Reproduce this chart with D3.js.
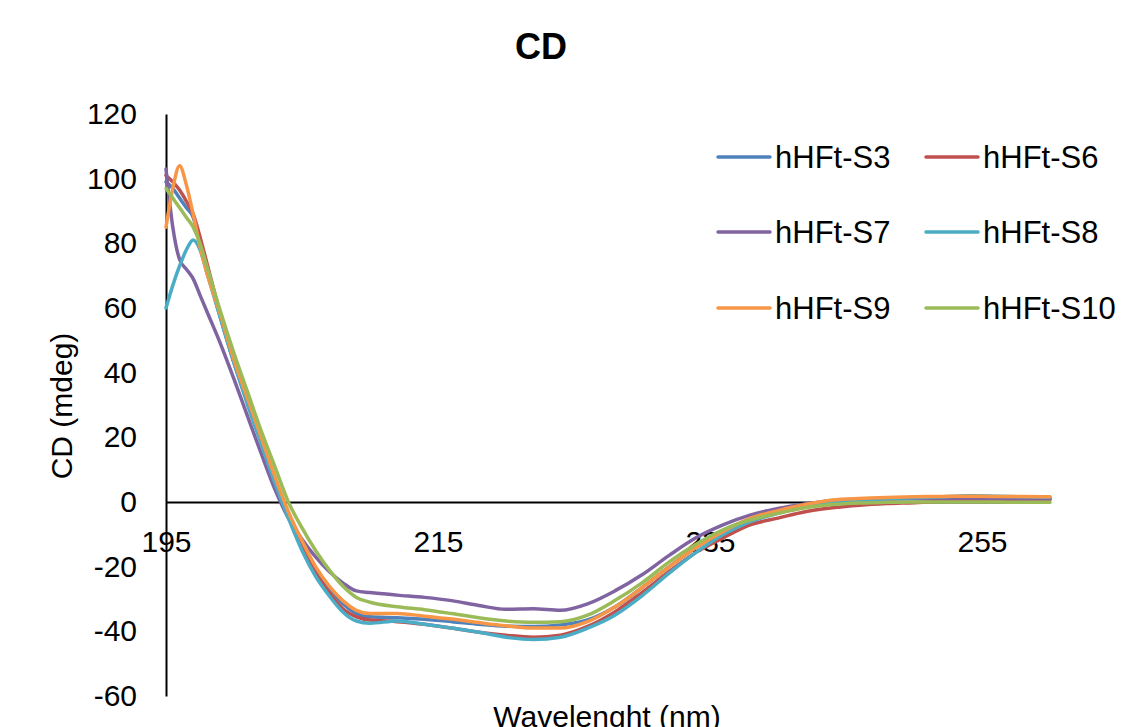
<!DOCTYPE html>
<html>
<head>
<meta charset="utf-8">
<script src="https://cdn.jsdelivr.net/npm/d3@7"></script>
<style>
  body { margin: 0; background: #fff; }
  svg { display: block; font-family: "Liberation Sans", Arial, sans-serif; }
</style>
</head>
<body>
<svg id="chart"></svg>
<script>
// wavelength grid (nm)
const wavelengths = [195, 195.5, 196, 196.5, 197, 197.5, 198, 199, 200, 201, 202, 203, 204, 205, 206, 207, 208, 209, 210,
  212, 214, 216, 218, 220, 222, 224, 226, 228, 230, 232, 234, 236, 238, 240, 242, 244, 246, 248, 250, 252, 254, 256, 258, 260];

const seriesNames = ['hHFt-S3', 'hHFt-S6', 'hHFt-S7', 'hHFt-S8', 'hHFt-S9', 'hHFt-S10'];
const seriesColors = ['#4F81BD', '#C0504D', '#8064A2', '#4BACC6', '#F79646', '#9BBB59'];

const s3 = [99, 97, 94, 91, 88, 80, 72, 57, 43, 31, 19, 7, -4, -13, -21, -26.5, -31.5, -34.5, -35.5,
  -35.8, -36.3, -37, -37.8, -38.4, -38.5, -38, -36.5, -32.5, -26.5, -20, -14, -9, -5.5, -3, -1.2, 0, 0.6, 0.9, 1, 1.1, 1.2, 1.2, 1.1, 1];
const s6 = [101, 99, 96.5, 93, 89, 82, 74, 58, 44, 31, 19, 7, -4, -14, -22, -28, -33, -35.5, -36.5,
  -37, -37.8, -39, -40.3, -41.2, -41.8, -41.2, -38.5, -34, -28, -21.5, -15.5, -11, -7, -5, -3, -1.8, -1, -0.5, -0.2, 0.2, 0.5, 0.7, 0.8, 0.8];
const s7 = [103, 85, 75, 72, 69, 64, 59, 49, 38, 26.5, 15, 4, -5, -11.5, -17, -21.5, -25, -27.5, -28,
  -28.8, -29.5, -30.5, -32, -33.2, -33, -33.5, -31.5, -27.5, -22.5, -16.5, -11, -7, -4, -2, -0.6, 0.4, 0.8, 1, 1.1, 1.1, 1.2, 1.1, 1, 1];
const s8 = [60, 67, 73, 78, 81, 78, 71, 57, 43, 30, 18, 6, -5, -15, -23, -29, -34, -36.8, -37.5,
  -36.8, -37.8, -39, -40.3, -41.8, -42.5, -41.8, -39, -35, -29, -22, -15.5, -10, -6, -3.5, -1.5, -0.2, 0.5, 1, 1.3, 1.6, 1.9, 1.8, 1.6, 1.5];
const s9 = [85, 97, 104, 98, 89, 79, 71, 58, 44, 32, 20, 8, -3, -12, -20, -26, -30.5, -33.5, -34.5,
  -34.5, -35.3, -36.2, -37.3, -38.3, -39, -39, -37, -32.5, -26.5, -20, -14, -9, -5, -2.7, -0.8, 0.6, 1.1, 1.4, 1.6, 1.7, 1.8, 1.7, 1.7, 1.6];
const s10 = [97, 94, 91, 88, 85, 80, 73, 59, 46, 34, 22, 11, 0, -8, -15, -21, -26, -29.5, -31,
  -32.4, -33.3, -34.5, -35.8, -36.8, -37.2, -37, -35, -30.5, -25, -18.5, -13, -8.5, -5.5, -3.5, -1.8, -0.8, -0.3, -0.1, 0, 0, 0, 0, -0.1, -0.1];
const seriesValues = [s3, s6, s7, s8, s9, s10];

const xTicks = [195, 215, 235, 255];
const yTicks = [-60, -40, -20, 0, 20, 40, 60, 80, 100, 120];

const W = 1135, H = 727;
const svg = d3.select('#chart').attr('width', W).attr('height', H);

const x = d3.scaleLinear().domain([195, 260]).range([166, 1050]);
const y = d3.scaleLinear().domain([-60, 120]).range([696, 114]);

// title
svg.append('text')
  .attr('x', 541).attr('y', 59)
  .attr('text-anchor', 'middle')
  .attr('font-size', 36).attr('font-weight', 'bold')
  .text('CD');

// y axis (plain hyphen for negatives, like the original)
const yAxis = svg.append('g')
  .attr('transform', `translate(${x(195)},0)`)
  .call(d3.axisLeft(y).tickValues(yTicks).tickFormat(d => String(d)).tickSize(0).tickPadding(29));
yAxis.select('.domain').attr('stroke', '#000').attr('stroke-width', 2);
yAxis.selectAll('text').attr('font-size', 30).attr('fill', '#000').style('font-family', '"Liberation Sans", Arial, sans-serif');

// x axis at y = 0
const xAxis = svg.append('g')
  .attr('transform', `translate(0,${y(0)})`)
  .call(d3.axisBottom(x).tickValues(xTicks).tickFormat(d => String(d)).tickSize(0).tickPadding(29));
xAxis.select('.domain').attr('stroke', '#000').attr('stroke-width', 2);
xAxis.selectAll('text').attr('font-size', 30).attr('fill', '#000').style('font-family', '"Liberation Sans", Arial, sans-serif');

// axis titles
svg.append('text')
  .attr('transform', 'translate(72,406) rotate(-90)')
  .attr('text-anchor', 'middle')
  .attr('font-size', 30)
  .text('CD (mdeg)');

svg.append('text')
  .attr('x', 607).attr('y', 727)
  .attr('text-anchor', 'middle')
  .attr('font-size', 30)
  .text('Wavelenght (nm)');

// curves
const line = d3.line()
  .x((d, i) => x(wavelengths[i]))
  .y(d => y(d))
  .curve(d3.curveMonotoneX);

svg.append('g')
  .selectAll('path')
  .data(seriesValues)
  .enter()
  .append('path')
  .attr('fill', 'none')
  .attr('stroke', (d, i) => seriesColors[i])
  .attr('stroke-width', 3.5)
  .attr('stroke-linejoin', 'round')
  .attr('stroke-linecap', 'round')
  .attr('d', line);

// legend
const legend = svg.append('g').attr('class', 'legend');
const legendRows = [157, 232, 308];
const legendCols = [718, 926];

seriesNames.forEach((name, i) => {
  const lx = legendCols[i % 2];
  const ly = legendRows[Math.floor(i / 2)];
  const item = legend.append('g').attr('transform', `translate(${lx},${ly})`);
  item.append('line')
    .attr('x1', 0).attr('x2', 52)
    .attr('stroke', seriesColors[i])
    .attr('stroke-width', 3.5)
    .attr('stroke-linecap', 'round');
  item.append('text')
    .attr('x', 57).attr('dy', '0.35em')
    .attr('font-size', 31)
    .text(name);
});
</script>
</body>
</html>
